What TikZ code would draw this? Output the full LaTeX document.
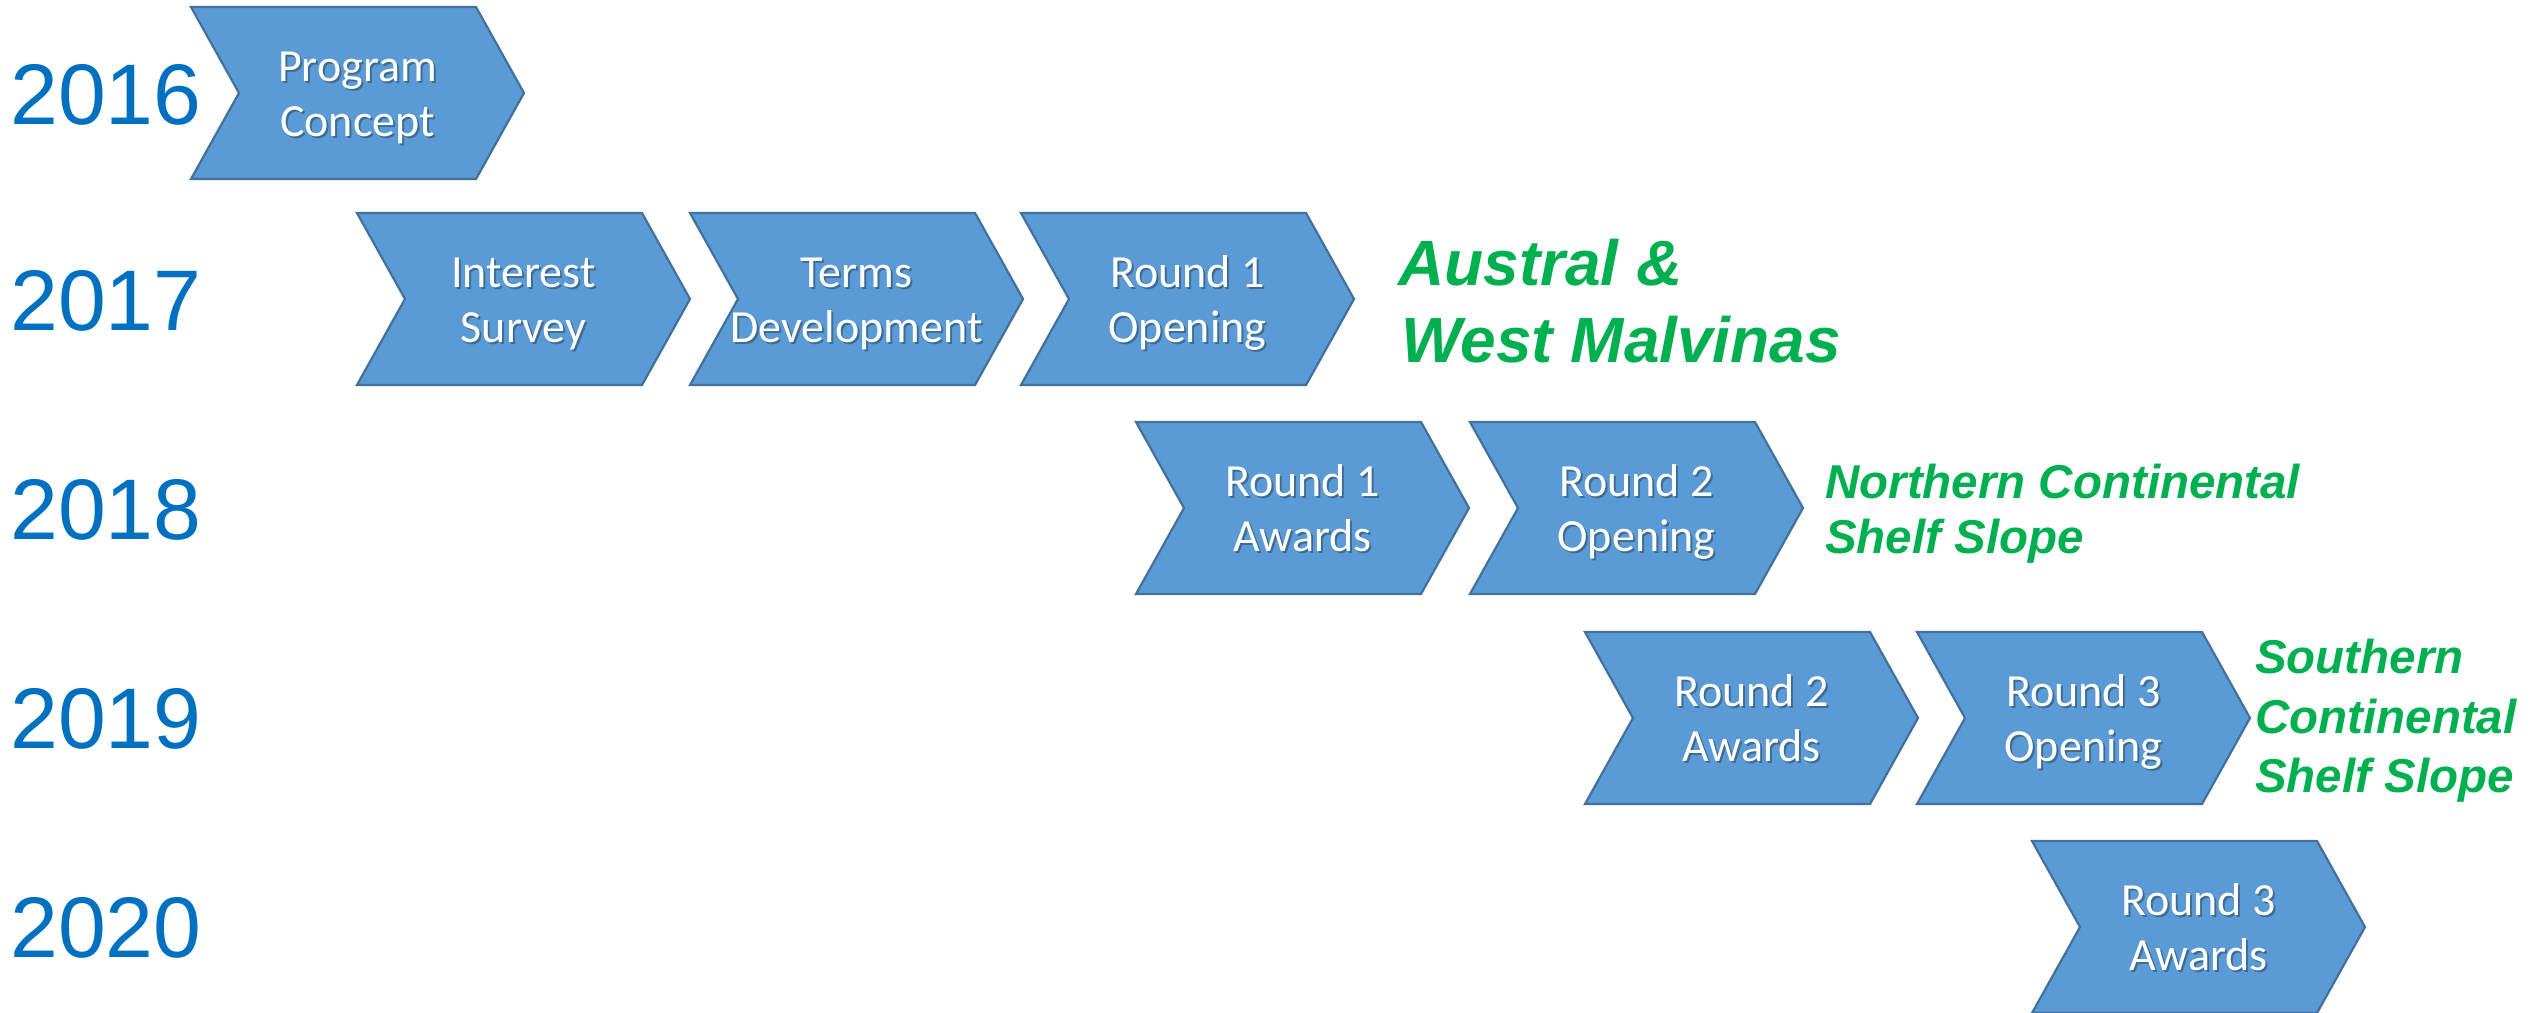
\documentclass[tikz,border=0pt]{standalone}
\usepackage{fontspec}
\setmainfont{Liberation Sans}
\newfontfamily\calfont{Carlito}
\definecolor{chevfill}{HTML}{5B9BD5}
\definecolor{chevdraw}{HTML}{41719C}
\definecolor{yearblue}{HTML}{0070C0}
\definecolor{areagreen}{HTML}{00B050}
\tikzset{
  chevshape/.style={fill=chevfill, draw=chevdraw, line width=2.2pt, line join=miter},
  chevtext/.style={text=white, font=\calfont\fontsize{46}{55}\selectfont, inner sep=0pt, anchor=base},
  chevshadow/.style={text=black, text opacity=0.3, font=\calfont\fontsize{46}{55}\selectfont, inner sep=0pt, anchor=base},
  yeartext/.style={text=yearblue, font=\fontsize{86}{98}\selectfont, inner sep=0pt, anchor=base west},
  areatext/.style={text=areagreen, font=\bfseries\itshape\fontsize{47.5}{56}\selectfont, inner sep=0pt, anchor=base west},
  areabig/.style={text=areagreen, font=\bfseries\itshape\fontsize{64}{77}\selectfont, inner sep=0pt, anchor=base west},
}
% #1 name, #2 left x, #3 top y, #4 first line, #5 second line
\newcommand\mychev[5]{%
  \draw[chevshape] (#2,#3) -- ++(285,0) -- ++(48,86) -- ++(-48,86) -- ++(-285,0) -- ++(48,-86) -- cycle;
  \coordinate (#1) at (#2+166.5,#3+86);
  \node[chevshadow] (#1-s1) at (#2+168.5,#3+76) {#4};
  \node[chevshadow] (#1-s2) at (#2+168.5,#3+131) {#5};
  \node[chevtext] (#1-l1) at (#2+166.5,#3+74) {#4};
  \node[chevtext] (#1-l2) at (#2+166.5,#3+129) {#5};
}
\begin{document}
\begin{tikzpicture}[x=1pt,y=-1pt]
\useasboundingbox[fill=white] (0,0) rectangle (2532,1012);
% years
\node[yeartext] (y2016) at (10,124.5) {2016};
\node[yeartext] (y2017) at (10,330.5) {2017};
\node[yeartext] (y2018) at (10,539.5) {2018};
\node[yeartext] (y2019) at (10,748.5) {2019};
\node[yeartext] (y2020) at (10,957.5) {2020};
% chevrons
\mychev{pc}{191}{7}{Program}{Concept}
\mychev{is}{357}{213}{Interest}{Survey}
\mychev{td}{690}{213}{Terms}{Development}
\mychev{roa}{1021}{213}{Round 1}{Opening}
\mychev{raa}{1136}{422}{Round 1}{Awards}
\mychev{rob}{1470}{422}{Round 2}{Opening}
\mychev{rab}{1585}{632}{Round 2}{Awards}
\mychev{roc}{1917}{632}{Round 3}{Opening}
\mychev{rac}{2032}{841}{Round 3}{Awards}
% areas
\node[areabig] (aus1) at (1398,285) {Austral \&};
\node[areabig] (aus2) at (1401,362) {West Malvinas};
\node[areatext] (nor1) at (1825,498) {Northern Continental};
\node[areatext] (nor2) at (1825,553) {Shelf Slope};
\node[areatext] (sou1) at (2255,673) {Southern};
\node[areatext] (sou2) at (2255,733) {Continental};
\node[areatext] (sou3) at (2255,792) {Shelf Slope};
\end{tikzpicture}
\end{document}
